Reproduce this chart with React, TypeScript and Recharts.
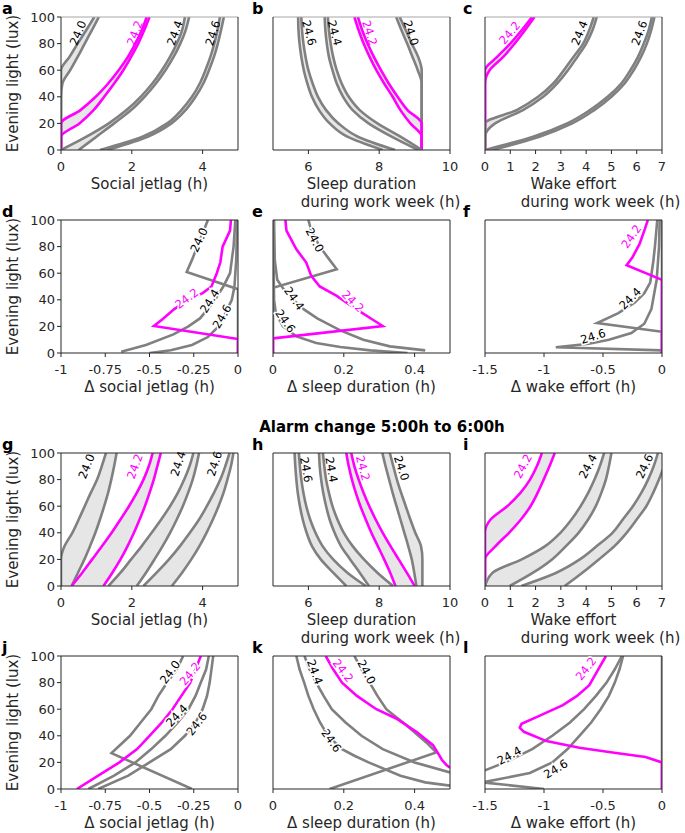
import React from "react";
import { ComposedChart, Line, Area, XAxis, YAxis, ReferenceDot } from "recharts";

const FONT = "'DejaVu Sans', Verdana, sans-serif";
const INK = "#262626";
const GRAY = "#808080";
const MAGENTA = "#ff00ff";
const BAND = "#e6e6e6";

const LUX = [0, 10, 20, 30, 40, 50, 60, 70, 80, 90, 100];
const LUX_TICKS = [0, 20, 40, 60, 80, 100];

const COL_LEFT = [61, 273, 485];
const ROW_TOP = [17, 220, 453, 656];
const PLOT_W = 177;
const PLOT_H = 133;

// a: social jetlag (h), left/right edge of each period's band, sampled at LUX
const A_240_LO = [0, 0, 0, 0, 0, 0, 0, 0.24, 0.47, 0.71, 0.94];
const A_240_HI = [0, 0, 0, 0, 0, 0.04, 0.26, 0.47, 0.67, 0.87, 1.07];
const A_242_LO = [0, 0, 0, 0.55, 0.98, 1.33, 1.63, 1.89, 2.1, 2.28, 2.42];
const A_242_HI = [0, 0, 0.52, 0.92, 1.22, 1.5, 1.76, 1.98, 2.18, 2.35, 2.5];
const A_244_LO = [0, 0.72, 1.35, 1.85, 2.25, 2.58, 2.85, 3.08, 3.27, 3.42, 3.5];
const A_244_HI = [0.5, 1.0, 1.5, 1.98, 2.36, 2.68, 2.95, 3.18, 3.37, 3.52, 3.62];
const A_246_LO = [1.1, 2.3, 3.0, 3.4, 3.7, 3.92, 4.08, 4.22, 4.33, 4.42, 4.49];
const A_246_HI = [1.3, 2.45, 3.12, 3.52, 3.8, 4.02, 4.18, 4.32, 4.43, 4.52, 4.6];

// b: sleep duration (h)
const B_240_LO = [9.2, 9.2, 9.2, 9.2, 9.2, 9.2, 9.09, 8.94, 8.79, 8.63, 8.48];
const B_240_HI = [9.2, 9.2, 9.2, 9.2, 9.2, 9.2, 9.2, 9.1, 8.92, 8.75, 8.58];
const B_242_LO = [9.2, 9.2, 8.88, 8.6, 8.38, 8.14, 7.92, 7.73, 7.56, 7.42, 7.3];
const B_242_HI = [9.2, 9.2, 9.2, 8.8, 8.52, 8.27, 8.05, 7.85, 7.67, 7.52, 7.4];
const B_244_LO = [9.1, 8.35, 7.7, 7.25, 6.98, 6.8, 6.68, 6.58, 6.52, 6.48, 6.46];
const B_244_HI = [9.2, 8.6, 7.95, 7.45, 7.14, 6.94, 6.8, 6.7, 6.63, 6.58, 6.55];
const B_246_LO = [8.1, 7.1, 6.6, 6.3, 6.1, 5.97, 5.87, 5.8, 5.75, 5.72, 5.71];
const B_246_HI = [8.45, 7.4, 6.85, 6.5, 6.27, 6.12, 6.0, 5.92, 5.86, 5.82, 5.8];

// c: wake effort (h)
const C_242_LO = [0, 0, 0, 0, 0, 0, 0, 0.48, 1.0, 1.45, 1.86];
const C_242_HI = [0, 0, 0, 0, 0, 0, 0.18, 0.72, 1.17, 1.58, 1.96];
const C_244_LO = [0, 0, 0, 1.25, 2.1, 2.7, 3.12, 3.5, 3.88, 4.12, 4.3];
const C_244_HI = [0, 0, 0.4, 1.5, 2.3, 2.85, 3.28, 3.65, 4.0, 4.25, 4.42];
const C_246_LO = [0, 1.9, 3.25, 4.15, 4.85, 5.39, 5.75, 6.05, 6.28, 6.47, 6.6];
const C_246_HI = [0.3, 2.15, 3.45, 4.32, 5.0, 5.52, 5.88, 6.17, 6.4, 6.57, 6.7];

// d-f: change after alarm shift, paths listed from 100 lux downwards
const D_240_LUX = [100, 90, 80, 70, 61, 48, 0];
const D_240 = [-0.17, -0.2, -0.23, -0.26, -0.29, 0, 0];
const D_242_LUX = [100, 92, 80, 68, 60, 50, 45, 40, 33, 25, 20.3, 10.5, 0];
const D_242 = [-0.04, -0.045, -0.087, -0.1, -0.12, -0.15, -0.2, -0.28, -0.36, -0.43, -0.475, 0, 0];
const D_244_LUX = [100, 80, 60, 50, 40, 30, 26, 20, 14, 6, 1];
const D_244 = [-0.015, -0.025, -0.045, -0.083, -0.13, -0.19, -0.215, -0.28, -0.365, -0.52, -0.66];
const D_246_LUX = [100, 70, 50, 40, 30, 20, 12, 6, 2, 0];
const D_246 = [-0.005, -0.01, -0.02, -0.035, -0.07, -0.11, -0.17, -0.26, -0.38, -0.5];

const E_240_LUX = [100, 92, 80, 70, 63, 49, 0];
const E_240 = [0.1, 0.108, 0.132, 0.16, 0.18, 0, 0];
const E_242_LUX = [100, 92, 78, 68, 58, 50, 43, 33, 25, 20.3, 11, 0];
const E_242 = [0.035, 0.038, 0.066, 0.094, 0.108, 0.132, 0.18, 0.235, 0.282, 0.31, 0, 0];
const E_244_LUX = [100, 70, 55, 48, 41, 35, 26, 17, 10, 5, 2];
const E_244 = [0.003, 0.005, 0.012, 0.03, 0.055, 0.075, 0.125, 0.19, 0.255, 0.33, 0.43];
const E_246_LUX = [100, 40, 30, 20, 12.5, 7.5, 4.5, 2, 0];
const E_246 = [0, 0.003, 0.008, 0.028, 0.066, 0.122, 0.19, 0.275, 0.38];

const F_240_LUX = [100, 0];
const F_240 = [0, 0];
const F_242_LUX = [100, 92, 82, 72, 66, 55, 0];
const F_242 = [-0.12, -0.15, -0.19, -0.25, -0.3, 0, 0];
const F_244_LUX = [100, 80, 68, 53, 45, 38, 30, 22.5, 16, 0];
const F_244 = [-0.04, -0.06, -0.075, -0.1, -0.15, -0.23, -0.37, -0.55, 0, 0];
const F_246_LUX = [100, 80, 55, 33, 22, 15, 10, 7, 4.3, 2, 0];
const F_246 = [-0.02, -0.025, -0.045, -0.09, -0.15, -0.26, -0.45, -0.62, -0.9, 0, 0];

// g-i: after alarm change 5:00h to 6:00h
const G_240_LO = [0, 0, 0, 0.1, 0.32, 0.5, 0.67, 0.84, 1.02, 1.15, 1.27];
const G_240_HI = [0.3, 0.48, 0.66, 0.82, 0.97, 1.1, 1.22, 1.33, 1.42, 1.5, 1.57];
const G_242_LO = [0.3, 0.6, 0.88, 1.16, 1.43, 1.68, 1.92, 2.14, 2.33, 2.48, 2.59];
const G_242_HI = [1.2, 1.45, 1.68, 1.88, 2.06, 2.22, 2.37, 2.5, 2.62, 2.72, 2.82];
const G_244_LO = [1.34, 1.68, 1.98, 2.28, 2.56, 2.83, 3.08, 3.3, 3.48, 3.63, 3.74];
const G_244_HI = [2.14, 2.4, 2.64, 2.87, 3.08, 3.27, 3.44, 3.59, 3.72, 3.82, 3.9];
const G_246_LO = [2.33, 2.7, 3.05, 3.36, 3.64, 3.9, 4.12, 4.32, 4.5, 4.64, 4.76];
const G_246_HI = [3.13, 3.42, 3.68, 3.91, 4.11, 4.29, 4.45, 4.59, 4.7, 4.8, 4.87];

const H_240_LO = [9.05, 8.99, 8.92, 8.82, 8.71, 8.6, 8.49, 8.38, 8.28, 8.18, 8.09];
const H_240_HI = [9.22, 9.22, 9.22, 9.18, 9.02, 8.88, 8.75, 8.62, 8.5, 8.4, 8.3];
const H_242_LO = [8.46, 8.31, 8.14, 7.96, 7.78, 7.62, 7.47, 7.34, 7.23, 7.14, 7.07];
const H_242_HI = [9.0, 8.78, 8.55, 8.32, 8.1, 7.9, 7.72, 7.56, 7.42, 7.3, 7.21];
const H_244_LO = [7.71, 7.45, 7.18, 6.92, 6.74, 6.6, 6.5, 6.42, 6.36, 6.32, 6.3];
const H_244_HI = [8.39, 7.95, 7.57, 7.25, 7.0, 6.82, 6.68, 6.58, 6.5, 6.45, 6.41];
const H_246_LO = [7.07, 6.7, 6.35, 6.1, 5.95, 5.84, 5.76, 5.7, 5.66, 5.63, 5.61];
const H_246_HI = [7.62, 7.1, 6.7, 6.4, 6.2, 6.05, 5.94, 5.86, 5.8, 5.76, 5.73];

const I_242_LO = [0, 0, 0, 0, 0, 0.22, 0.88, 1.4, 1.78, 2.05, 2.25];
const I_242_HI = [0, 0, 0, 0.42, 0.95, 1.42, 1.8, 2.08, 2.32, 2.55, 2.76];
const I_244_LO = [0, 0.3, 1.45, 2.38, 2.98, 3.42, 3.78, 4.08, 4.33, 4.54, 4.71];
const I_244_HI = [0.98, 1.9, 2.65, 3.2, 3.7, 4.08, 4.38, 4.6, 4.78, 4.9, 5.0];
const I_246_LO = [1.44, 2.82, 3.75, 4.42, 5.04, 5.45, 5.85, 6.18, 6.45, 6.67, 6.84];
const I_246_HI = [3.15, 3.85, 4.5, 5.12, 5.6, 6.0, 6.38, 6.65, 6.88, 7.08, 7.25];

// j-l
const J_240_LUX = [100, 90, 80, 70, 60, 50, 40, 32, 27, 0];
const J_240 = [-0.31, -0.345, -0.4, -0.45, -0.49, -0.55, -0.61, -0.675, -0.715, -0.26];
const J_242 = [-0.91, -0.79, -0.67, -0.57, -0.5, -0.43, -0.37, -0.32, -0.27, -0.24, -0.21];
const J_244 = [-0.845, -0.7, -0.58, -0.49, -0.41, -0.34, -0.28, -0.24, -0.21, -0.18, -0.165];
const J_246 = [-0.79, -0.62, -0.5, -0.38, -0.3, -0.24, -0.2, -0.175, -0.16, -0.15, -0.14];

const K_240_LUX = [100, 90, 80, 70, 60, 48, 35, 27.5, 0];
const K_240 = [0.23, 0.25, 0.273, 0.295, 0.32, 0.377, 0.433, 0.461, 0.16];
const K_242_LUX = [100, 90, 80, 70, 60, 53, 43, 33, 27, 22, 18, 16];
const K_242 = [0.149, 0.17, 0.195, 0.237, 0.292, 0.348, 0.405, 0.452, 0.466, 0.477, 0.49, 0.5];
const K_244_LUX = [100, 90, 80, 70, 60, 50, 40, 30, 20, 12.5];
const K_244 = [0.089, 0.103, 0.122, 0.143, 0.166, 0.205, 0.25, 0.31, 0.4, 0.5];
const K_246_LUX = [100, 90, 80, 70, 60, 50, 40, 30, 25, 20, 10, 5, 2.5];
const K_246 = [0.066, 0.075, 0.088, 0.1, 0.115, 0.133, 0.155, 0.195, 0.23, 0.27, 0.36, 0.43, 0.5];

const L_240_LUX = [100, 0];
const L_240 = [0, 0];
const L_242_LUX = [100, 90, 78, 70, 63, 55, 49, 46, 43, 36, 31, 27.5, 24, 20, 0];
const L_242 = [-0.475, -0.54, -0.616, -0.72, -0.84, -1.04, -1.19, -1.205, -1.17, -0.98, -0.7, -0.42, -0.14, 0, 0];
const L_244_LUX = [100, 90, 80, 70, 60, 50, 40, 30, 20, 14];
const L_244 = [-0.34, -0.4, -0.47, -0.56, -0.66, -0.78, -0.93, -1.1, -1.33, -1.5];
const L_246_LUX = [100, 90, 80, 70, 60, 50, 40, 30, 20, 12, 5, 0];
const L_246 = [-0.33, -0.36, -0.4, -0.45, -0.52, -0.6, -0.7, -0.8, -0.93, -1.12, -1.52, -1.0];

type Band = { lo: number[]; hi: number[]; color: string };
type Path = { y: number[]; x: number[]; color: string };
type Tag = { text: string; x: number; y: number; angle: number };
type TitleLine = { text: string; dx: number };
type PanelSpec = {
  letter: string;
  row: number;
  col: number;
  domain: [number, number];
  ticks: number[];
  xLabel: TitleLine[];
  topStroke: string;
  bands?: Band[];
  paths?: Path[];
  tags: Tag[];
  halo?: boolean;
};

const band = (lo: number[], hi: number[], color = GRAY): Band => ({ lo, hi, color });
const path = (y: number[], x: number[], color = GRAY): Path => ({ y, x, color });
const tag = (text: string, x: number, y: number, angle: number): Tag => ({ text, x, y, angle });

const SJL = [{ text: "Social jetlag (h)", dx: 0 }];
const SLEEP = [{ text: "Sleep duration", dx: 0 }, { text: "during work week (h)", dx: 19 }];
const WAKE = [{ text: "Wake effort", dx: 0 }, { text: "during work week (h)", dx: 27 }];

const PANELS: PanelSpec[] = [
  {
    letter: "a", row: 0, col: 0, domain: [0, 5], ticks: [0, 2, 4], xLabel: SJL, topStroke: "#a6a6a6",
    bands: [band(A_240_LO, A_240_HI), band(A_242_LO, A_242_HI, MAGENTA), band(A_244_LO, A_244_HI), band(A_246_LO, A_246_HI)],
    tags: [tag("24.0", 0.48, 88, -67), tag("24.2", 2.09, 88, -70), tag("24.4", 3.22, 88, -70), tag("24.6", 4.29, 88, -72)],
  },
  {
    letter: "b", row: 0, col: 1, domain: [5, 10], ticks: [6, 8, 10], xLabel: SLEEP, topStroke: "#a6a6a6",
    bands: [band(B_240_LO, B_240_HI), band(B_242_LO, B_242_HI, MAGENTA), band(B_244_LO, B_244_HI), band(B_246_LO, B_246_HI)],
    tags: [tag("24.6", 6.02, 88, 75), tag("24.4", 6.74, 88, 75), tag("24.2", 7.73, 88, 72), tag("24.0", 8.9, 88, 72)],
  },
  {
    letter: "c", row: 0, col: 2, domain: [0, 7], ticks: [0, 1, 2, 3, 4, 5, 6, 7], xLabel: WAKE, topStroke: "#a6a6a6",
    bands: [band(C_242_LO, C_242_HI, MAGENTA), band(C_244_LO, C_244_HI), band(C_246_LO, C_246_HI)],
    tags: [tag("24.2", 0.98, 88, -50), tag("24.4", 3.74, 88, -68), tag("24.6", 6.11, 88, -70)],
  },
  {
    letter: "d", row: 1, col: 0, domain: [-1, 0], ticks: [-1, -0.75, -0.5, -0.25, 0],
    xLabel: [{ text: "\u0394 social jetlag (h)", dx: 0 }], topStroke: INK, halo: true,
    paths: [path(D_240_LUX, D_240), path(D_244_LUX, D_244), path(D_246_LUX, D_246), path(D_242_LUX, D_242, MAGENTA)],
    tags: [tag("24.0", -0.22, 85, -65), tag("24.2", -0.29, 41, -36), tag("24.4", -0.16, 39, -58), tag("24.6", -0.09, 27.5, -60)],
  },
  {
    letter: "e", row: 1, col: 1, domain: [0, 0.5], ticks: [0, 0.2, 0.4],
    xLabel: [{ text: "\u0394 sleep duration (h)", dx: 0 }], topStroke: INK, halo: true,
    paths: [path(E_240_LUX, E_240), path(E_244_LUX, E_244), path(E_246_LUX, E_246), path(E_242_LUX, E_242, MAGENTA)],
    tags: [tag("24.0", 0.118, 85, 62), tag("24.2", 0.226, 38.8, 45), tag("24.4", 0.06, 41, 55), tag("24.6", 0.035, 24, 55)],
  },
  {
    letter: "f", row: 1, col: 2, domain: [-1.5, 0], ticks: [-1.5, -1, -0.5, 0],
    xLabel: [{ text: "\u0394 wake effort (h)", dx: 0 }], topStroke: INK, halo: true,
    paths: [path(F_240_LUX, F_240), path(F_244_LUX, F_244), path(F_246_LUX, F_246), path(F_242_LUX, F_242, MAGENTA)],
    tags: [tag("24.2", -0.26, 87.7, -55), tag("24.4", -0.27, 41, -45), tag("24.6", -0.585, 12.5, -17)],
  },
  {
    letter: "g", row: 2, col: 0, domain: [0, 5], ticks: [0, 2, 4], xLabel: SJL, topStroke: INK,
    bands: [band(G_240_LO, G_240_HI), band(G_242_LO, G_242_HI, MAGENTA), band(G_244_LO, G_244_HI), band(G_246_LO, G_246_HI)],
    tags: [tag("24.0", 0.72, 90, -68), tag("24.2", 2.09, 90, -70), tag("24.4", 3.31, 92, -72), tag("24.6", 4.34, 92, -72)],
  },
  {
    letter: "h", row: 2, col: 1, domain: [5, 10], ticks: [6, 8, 10], xLabel: SLEEP, topStroke: INK,
    bands: [band(H_240_LO, H_240_HI), band(H_242_LO, H_242_HI, MAGENTA), band(H_244_LO, H_244_HI), band(H_246_LO, H_246_HI)],
    tags: [tag("24.6", 5.94, 87.4, 80), tag("24.4", 6.65, 87.4, 80), tag("24.2", 7.54, 88.6, 75), tag("24.0", 8.63, 88.6, 72)],
  },
  {
    letter: "i", row: 2, col: 2, domain: [0, 7], ticks: [0, 1, 2, 3, 4, 5, 6, 7], xLabel: WAKE, topStroke: INK,
    bands: [band(I_242_LO, I_242_HI, MAGENTA), band(I_244_LO, I_244_HI), band(I_246_LO, I_246_HI)],
    tags: [tag("24.2", 1.5, 90, -62), tag("24.4", 4.07, 90, -62), tag("24.6", 6.31, 90, -65)],
  },
  {
    letter: "j", row: 3, col: 0, domain: [-1, 0], ticks: [-1, -0.75, -0.5, -0.25, 0],
    xLabel: [{ text: "\u0394 social jetlag (h)", dx: 0 }], topStroke: INK, halo: true,
    paths: [path(J_240_LUX, J_240), path(LUX, J_244), path(LUX, J_246), path(LUX, J_242, MAGENTA)],
    tags: [tag("24.0", -0.384, 88, -54), tag("24.2", -0.271, 86.7, -51), tag("24.4", -0.346, 55.3, -47), tag("24.6", -0.233, 49, -52)],
  },
  {
    letter: "k", row: 3, col: 1, domain: [0, 0.5], ticks: [0, 0.2, 0.4],
    xLabel: [{ text: "\u0394 sleep duration (h)", dx: 0 }], topStroke: INK, halo: true,
    paths: [path(K_240_LUX, K_240), path(K_244_LUX, K_244), path(K_246_LUX, K_246), path(K_242_LUX, K_242, MAGENTA)],
    tags: [tag("24.4", 0.118, 88, 70), tag("24.2", 0.198, 89, 52), tag("24.0", 0.264, 88, 62), tag("24.6", 0.165, 36.4, 55)],
  },
  {
    letter: "l", row: 3, col: 2, domain: [-1.5, 0], ticks: [-1.5, -1, -0.5, 0],
    xLabel: [{ text: "\u0394 wake effort (h)", dx: 0 }], topStroke: INK, halo: true,
    paths: [path(L_240_LUX, L_240), path(L_244_LUX, L_244), path(L_246_LUX, L_246), path(L_242_LUX, L_242, MAGENTA)],
    tags: [tag("24.2", -0.644, 90.5, -52), tag("24.4", -1.294, 25.1, -29), tag("24.6", -0.9, 15.1, -31)],
  },
];

function XTitle(props: any) {
  const { viewBox, lines } = props;
  const cx = viewBox.x + viewBox.width / 2;
  return (
    <text fontFamily={FONT} fontSize={15} fill={INK}>
      {lines.map((l: TitleLine, i: number) => (
        <tspan key={i} x={cx + l.dx} y={viewBox.y + 39 + i * 17.5} textAnchor="middle">
          {l.text}
        </tspan>
      ))}
    </text>
  );
}

function YTitle(props: any) {
  const { viewBox } = props;
  const x = viewBox.x + 12;
  const cy = viewBox.y + viewBox.height / 2;
  return (
    <text x={x} y={cy} transform={`rotate(-90, ${x}, ${cy})`} textAnchor="middle" fontFamily={FONT} fontSize={15} fill={INK}>
      Evening light (lux)
    </text>
  );
}

function Panel({ p }: { p: PanelSpec }) {
  const mL = 6, yW = 55, mT = 5, topH = 8, botH = 22, mB = 50, rW = 8, mR = 40;
  const width = mL + yW + PLOT_W + rW + mR;
  const height = mT + topH + PLOT_H + botH + mB;
  const left = COL_LEFT[p.col] - mL - yW;
  const top = ROW_TOP[p.row] - mT - topH;
  const tickStyle = { fill: INK, fontSize: 13, fontFamily: FONT };
  const curve = { xAxisId: "b", yAxisId: "l", dot: false, activeDot: false, isAnimationActive: false, strokeWidth: 2.6 };

  return (
    <div style={{ position: "absolute", left, top }}>
      <ComposedChart layout="vertical" width={width} height={height} margin={{ top: mT, right: mR, bottom: mB, left: mL }}>
        <XAxis
          xAxisId="b"
          type="number"
          domain={p.domain}
          ticks={p.ticks}
          interval={0}
          allowDataOverflow
          height={botH}
          tickSize={4}
          tickMargin={8}
          stroke={INK}
          tick={tickStyle}
          label={(lp: any) => <XTitle {...lp} lines={p.xLabel} />}
        />
        <XAxis
          xAxisId="t"
          orientation="top"
          type="number"
          domain={p.domain}
          ticks={p.ticks}
          interval={0}
          allowDataOverflow
          height={topH}
          tickSize={4}
          stroke={p.topStroke}
          tick={false}
        />
        <YAxis
          yAxisId="l"
          type="number"
          dataKey="y"
          domain={[0, 100]}
          ticks={LUX_TICKS}
          interval={0}
          reversed
          allowDataOverflow
          width={yW}
          tickSize={4}
          tickMargin={2}
          stroke={INK}
          tick={p.col === 0 ? tickStyle : false}
          label={p.col === 0 ? (lp: any) => <YTitle {...lp} /> : undefined}
        />
        <YAxis
          yAxisId="r"
          orientation="right"
          type="number"
          dataKey="y"
          domain={[0, 100]}
          ticks={LUX_TICKS}
          interval={0}
          reversed
          allowDataOverflow
          width={rW}
          tickSize={4}
          stroke={INK}
          tick={false}
        />
        {(p.bands || []).map((b, i) => (
          <Area
            key={`area-${i}`}
            xAxisId="b"
            yAxisId="l"
            data={LUX.map((y, k) => ({ y, r: [b.lo[k], b.hi[k]] }))}
            dataKey="r"
            type="monotone"
            stroke="none"
            fill={BAND}
            fillOpacity={1}
            dot={false}
            activeDot={false}
            isAnimationActive={false}
          />
        ))}
        {(p.bands || []).flatMap((b, i) => [
          <Line key={`lo-${i}`} {...curve} data={LUX.map((y, k) => ({ y, x: b.lo[k] }))} dataKey="x" type="monotone" stroke={b.color} />,
          <Line key={`hi-${i}`} {...curve} data={LUX.map((y, k) => ({ y, x: b.hi[k] }))} dataKey="x" type="monotone" stroke={b.color} />,
        ])}
        {(p.paths || []).map((s, i) => (
          <Line key={`path-${i}`} {...curve} data={s.y.map((y, k) => ({ y, x: s.x[k] }))} dataKey="x" type="linear" stroke={s.color} />
        ))}
        {p.tags.map((t, i) => (
          <ReferenceDot
            key={`tag-${i}`}
            xAxisId="b"
            yAxisId="l"
            x={t.x}
            y={t.y}
            r={0}
            ifOverflow="visible"
            shape={(sp: any) => (
              <text
                x={sp.cx}
                y={sp.cy}
                transform={`rotate(${t.angle}, ${sp.cx}, ${sp.cy})`}
                textAnchor="middle"
                dominantBaseline="central"
                fontFamily={FONT}
                fontSize={11.5}
                fill={t.text === "24.2" ? MAGENTA : "#000"}
                stroke={p.halo ? "#fff" : "none"}
                strokeWidth={p.halo ? 3 : 0}
                paintOrder="stroke"
              >
                {t.text}
              </text>
            )}
          />
        ))}
      </ComposedChart>
    </div>
  );
}

const LETTER_X = [2, 252, 463];

export default function App() {
  return (
    <div style={{ position: "absolute", left: 0, top: 0, width: 685, height: 833, background: "#fff", fontFamily: FONT, overflow: "hidden" }}>
      {PANELS.map((p) => (
        <Panel key={p.letter} p={p} />
      ))}
      <svg width={685} height={833} style={{ position: "absolute", left: 0, top: 0, pointerEvents: "none" }}>
        {PANELS.map((p) => (
          <text key={p.letter} x={LETTER_X[p.col]} y={ROW_TOP[p.row] - 3} fontFamily={FONT} fontWeight="bold" fontSize={16} fill="#000">
            {p.letter}
          </text>
        ))}
        <text x={382} y={432} textAnchor="middle" fontFamily={FONT} fontWeight="bold" fontSize={15} fill="#000">
          Alarm change 5:00h to 6:00h
        </text>
      </svg>
    </div>
  );
}
